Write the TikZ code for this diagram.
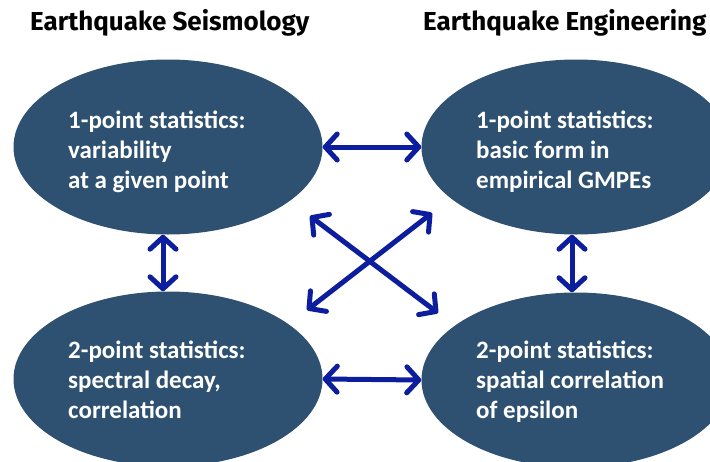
\documentclass[tikz,border=0pt]{standalone}
\usepackage{fontspec}
\setmainfont{Carlito}
\newfontfamily\titlefont{Fira Sans}
\usetikzlibrary{shapes.geometric,arrows.meta}
\definecolor{ellfill}{RGB}{47,81,113}
\definecolor{arrowblue}{RGB}{12,30,158}
\begin{document}
\begin{tikzpicture}[x=1pt,y=-1pt,
  ell/.style={ellipse, fill=ellfill, minimum width=309pt, minimum height=175pt, inner sep=0pt},
  lbl/.style={anchor=west, align=left, text=white, inner sep=0pt, font=\bfseries\fontsize{25}{30}\selectfont},
  ttl/.style={anchor=base west, inner sep=0pt, font=\titlefont\bfseries\fontsize{26}{30}\selectfont},
  dbl/.style={draw=arrowblue, line width=5pt, line cap=round,
    {Straight Barb[round,length=12pt,width=26pt]}-{Straight Barb[round,length=12pt,width=26pt]}}
]
\useasboundingbox (0,0) rectangle (710,461);
\clip (0,0) rectangle (710,461);
\node[ttl] (h1) at (30,30) {Earthquake Seismology};
\node[ttl] (h2) at (423,30) {Earthquake Engineering};
\node[ell] (tl) at (168,147) {};
\node[ell] (tr) at (576,147) {};
\node[ell] (bl) at (168,379) {};
\node[ell] (br) at (576,380) {};
\node[lbl] (t1) at (68,152) {1-point statistics:\\variability\\at a given point};
\node[lbl] (t2) at (476,152) {1-point statistics:\\basic form in\\empirical GMPEs};
\node[lbl] (t3) at (68,380) {2-point statistics:\\spectral decay,\\correlation};
\node[lbl] (t4) at (476,382) {2-point statistics:\\spatial correlation\\of epsilon};
\coordinate (a1) at (310,216);
\coordinate (a2) at (438,313);
\coordinate (b1) at (432,213);
\coordinate (b2) at (307,310);
\draw[dbl] (tl.east) -- (tr.west);
\draw[dbl] (bl.east) -- (br.west);
\draw[dbl] ([xshift=-5pt]tl.south) -- ([xshift=-5pt]bl.north);
\draw[dbl] ([xshift=-4pt]tr.south) -- ([xshift=-4pt]br.north);
\draw[dbl] (a1) -- (a2);
\draw[dbl] (b1) -- (b2);
\end{tikzpicture}
\end{document}
